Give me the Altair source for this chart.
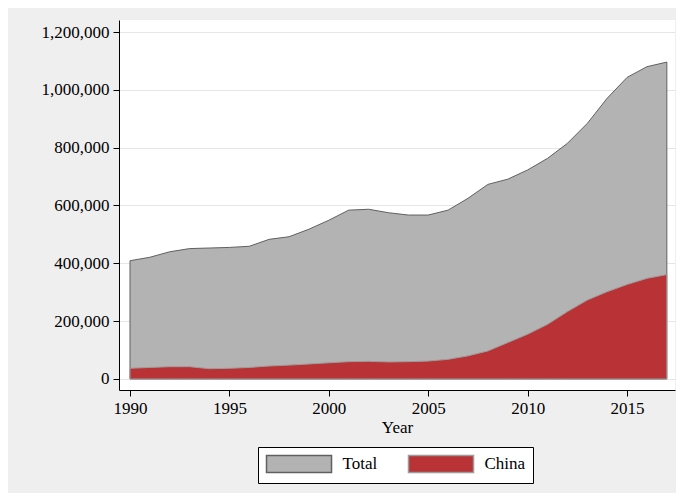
import altair as alt
import pandas as pd

years = list(range(1990, 2018))
total = [409000, 421000, 440000, 451000, 453000, 455000, 459000, 483000, 492000, 518000,
         549000, 584000, 587000, 575000, 567000, 567000, 584000, 625000, 673000, 691000,
         723000, 763000, 815000, 884000, 971000, 1043000, 1080000, 1096000]
china = [37000, 40000, 42600, 42600, 35600, 37000, 40000, 45000, 48000, 52000,
         56000, 60000, 61000, 59000, 60000, 62000, 68000, 80000, 97000, 126000,
         155000, 189000, 233000, 273000, 302000, 327000, 348000, 361000]
series = ["Total", "China"]
fills = ["#b3b3b3", "#b93235"]
strokes = ["#606060", "#9c9c9c"]
y_ticks = [0, 200000, 400000, 600000, 800000, 1000000, 1200000]
x_ticks = [1990, 1995, 2000, 2005, 2010, 2015]

df = pd.DataFrame({
    "Year": years * 2,
    "value": total + china,
    "series": ["Total"] * len(years) + ["China"] * len(years),
})

FONT = "Liberation Serif"

x = alt.X("Year:Q",
          scale=alt.Scale(domain=[1989.447, 2017.41], nice=False, zero=False),
          axis=alt.Axis(values=x_ticks, format="d", title="Year", grid=False))
y = alt.Y("value:Q",
          scale=alt.Scale(domain=[-38043, 1241500], nice=False, zero=False),
          axis=alt.Axis(values=y_ticks, format=",d", title=None, grid=True))

legend = alt.Legend(orient="none", legendX=139, legendY=427, direction="horizontal",
                    title=None, symbolType="M-1,-1H6.65V1H-1Z", symbolSize=289,
                    symbolStrokeWidth=1.5, symbolOpacity=1,
                    labelFont=FONT, labelFontSize=17, labelColor="black",
                    labelOffset=58, columnPadding=28, padding=7.5,
                    strokeColor="black", fillColor="white")

fill = alt.Fill("series:N", scale=alt.Scale(domain=series, range=fills), legend=legend)
stroke = alt.Stroke("series:N", scale=alt.Scale(domain=series, range=strokes), legend=legend)

base = alt.Chart(df).mark_area(strokeWidth=1, opacity=1, fillOpacity=1).encode(
    x=x, y=y, y2=alt.datum(0), fill=fill, stroke=stroke)

chart = alt.layer(
    base.transform_filter(alt.datum.series == "Total"),
    base.transform_filter(alt.datum.series == "China"),
).properties(
    width=556, height=370,
    autosize=alt.AutoSizeParams(type="none"),
    padding={"left": 111, "top": 12, "right": 1, "bottom": 103},
    background="#efefef",
).configure_view(
    fill="white", stroke=None
).configure_axis(
    labelFont=FONT, labelFontSize=17, labelColor="black",
    titleFont=FONT, titleFontSize=17, titleFontWeight="normal", titleColor="black",
    domainColor="black", domainWidth=1, tickColor="black", tickSize=6, tickWidth=1,
    labelPadding=4, titlePadding=3, gridColor="#e6e6e6", gridWidth=1
)

chart.save("out.html", embed_options={"renderer": "svg", "actions": False})
